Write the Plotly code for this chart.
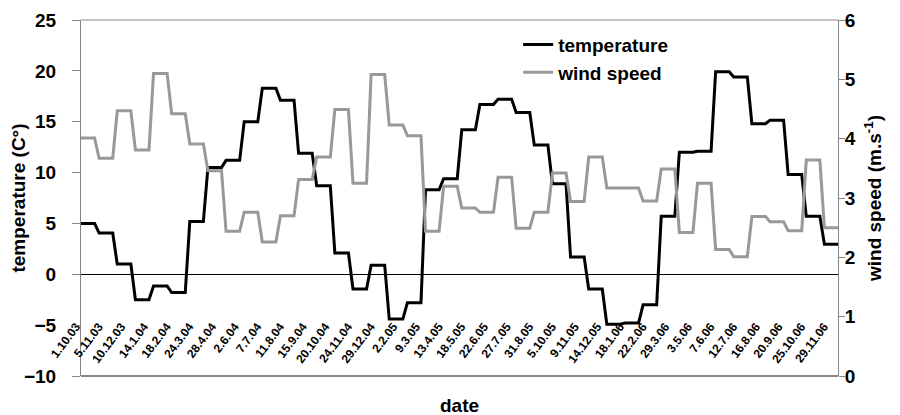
import pandas as pd
import plotly.graph_objects as go

# four-week means, repeated on the weekly category axis
TEMPERATURE = [5.0, 4.05, 1.0, -2.5, -1.15, -1.8, 5.2, 10.5, 11.2, 15.0,
               18.3, 17.1, 11.9, 8.7, 2.1, -1.45, 0.9, -4.4, -2.8, 8.3,
               9.4, 14.2, 16.7, 17.2, 15.9, 12.7, 8.9, 1.7, -1.45, -4.9,
               -4.8, -3.0, 5.7, 12.0, 12.1, 19.9, 19.4, 14.8, 15.15, 9.8,
               5.7, 2.95]
WIND_SPEED = [4.01, 3.67, 4.47, 3.81, 5.10, 4.42, 3.91, 3.46, 2.44, 2.76,
              2.26, 2.70, 3.31, 3.69, 4.49, 3.25, 5.08, 4.23, 4.05, 2.44,
              3.20, 2.83, 2.76, 3.35, 2.49, 2.76, 3.42, 2.94, 3.69, 3.17,
              3.17, 2.95, 3.49, 2.42, 3.25, 2.13, 2.01, 2.69, 2.60, 2.45,
              3.64, 2.50]
WEEKS_PER_BLOCK = 4
START_DATE = "2003-10-01"

TICK_LABELS = ["1.10.03", "5.11.03", "10.12.03", "14.1.04", "18.2.04", "24.3.04",
               "28.4.04", "2.6.04", "7.7.04", "11.8.04", "15.9.04", "20.10.04",
               "24.11.04", "29.12.04", "2.2.05", "9.3.05", "13.4.05", "18.5.05",
               "22.6.05", "27.7.05", "31.8.05", "5.10.05", "9.11.05", "14.12.05",
               "18.1.06", "22.2.06", "29.3.06", "3.5.06", "7.6.06", "12.7.06",
               "16.8.06", "20.9.06", "25.10.06", "29.11.06"]

FONT = "Liberation Sans, Arial, sans-serif"
GRAY_AXIS = "#868686"
BIG = 19

weeks = pd.date_range(START_DATE, periods=len(TEMPERATURE) * WEEKS_PER_BLOCK, freq="7D")
dates = [f"{d.day}.{d.month}.{d:%y}" for d in weeks]
temp_weekly = [v for v in TEMPERATURE for _ in range(WEEKS_PER_BLOCK)]
wind_weekly = [v for v in WIND_SPEED for _ in range(WEEKS_PER_BLOCK)]

fig = go.Figure()
fig.add_trace(go.Scatter(x=dates, y=temp_weekly, name="temperature", mode="lines",
                         line=dict(color="black", width=3), legendgroup="t"))
fig.add_trace(go.Scatter(x=dates, y=wind_weekly, name="wind speed", mode="lines",
                         line=dict(color="#999999", width=3), legendgroup="w",
                         yaxis="y2"))

bold = dict(family=FONT, color="black", weight="bold")

# the page body adds an 8px margin, so the figure is 8px smaller than the window
fig.update_layout(
    width=892, height=407,
    margin=dict(l=73, r=62, t=12, b=39),
    paper_bgcolor="white", plot_bgcolor="white",
    font=dict(family=FONT, color="black"),
    showlegend=True,
    legend=dict(x=0.5775, y=0.984, xanchor="left", yanchor="top",
                bgcolor="rgba(0,0,0,0)", font=dict(size=BIG, **bold),
                tracegroupgap=0),
    xaxis=dict(
        type="category", categoryorder="array", categoryarray=dates,
        range=[0, len(dates) - 1], automargin=False,
        tickmode="array", tickvals=TICK_LABELS, ticktext=TICK_LABELS,
        tickangle=-53, tickfont=dict(size=12, **bold), ticklabelshift=-5,
        showgrid=False, showline=False, zeroline=False, ticks="",
        anchor="free", position=0.168,
    ),
    yaxis=dict(
        range=[-10, 25], tickmode="array", tickvals=list(range(-10, 26, 5)),
        automargin=False,
        tickfont=dict(size=BIG, **bold), ticks="outside", ticklen=8,
        ticklabelstandoff=12,
        tickcolor=GRAY_AXIS, showgrid=False, showline=True, linecolor=GRAY_AXIS,
        linewidth=1, zeroline=True, zerolinecolor="black", zerolinewidth=1,
        title=dict(text="temperature (C°)", font=dict(size=BIG, **bold), standoff=1),
    ),
    yaxis2=dict(
        range=[0, 6], tickvals=list(range(0, 7)), overlaying="y", side="right",
        automargin=False,
        tickfont=dict(size=BIG, **bold), ticks="outside", ticklen=6,
        ticklabelstandoff=-4,
        tickcolor=GRAY_AXIS, showgrid=False, showline=True, linecolor=GRAY_AXIS,
        linewidth=1, zeroline=False,
        title=dict(text="wind speed (m.s<sup>-1</sup>)", font=dict(size=BIG, **bold),
                   standoff=12),
    ),
    shapes=[
        dict(type="line", xref="paper", yref="paper", x0=0, x1=1, y0=1, y1=1,
             line=dict(color=GRAY_AXIS, width=1)),
        dict(type="line", xref="paper", yref="paper", x0=0, x1=1, y0=0, y1=0,
             line=dict(color=GRAY_AXIS, width=2)),
    ],
    annotations=[
        dict(text="date", xref="paper", yref="paper", x=0.5, y=-0.082,
             showarrow=False, font=dict(size=BIG, **bold), yanchor="middle"),
    ],
)

fig.write_html("out.html")
